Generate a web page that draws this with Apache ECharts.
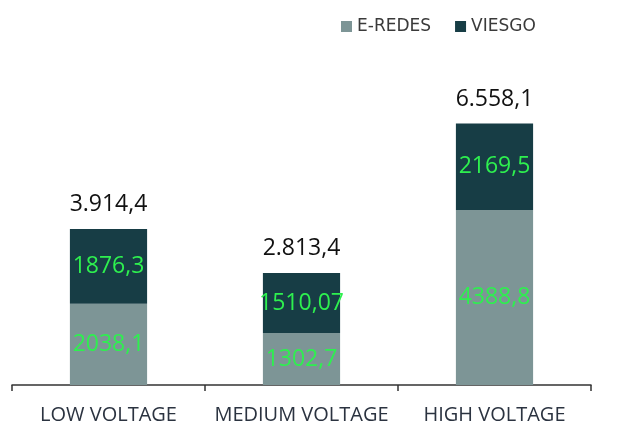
<!DOCTYPE html>
<html><head><meta charset="utf-8">
<script src="https://cdn.jsdelivr.net/npm/echarts@6/dist/echarts.min.js"></script>
<style>html,body{margin:0;padding:0;background:#fff}#c{width:625px;height:425px}</style>
</head><body><div id="c"></div>
<script>
const categories = ['LOW VOLTAGE', 'MEDIUM VOLTAGE', 'HIGH VOLTAGE'];
const eredes = [2038.1, 1302.7, 4388.8];
const viesgo = [1876.3, 1510.07, 2169.5];
const eredesLabels = ['2038,1', '1302,7', '4388,8'];
const viesgoLabels = ['1876,3', '1510,07', '2169,5'];
const totalLabels = ['3.914,4', '2.813,4', '6.558,1'];

const font = 'Open Sans, Noto Sans, sans-serif';
const chart = echarts.init(document.getElementById('c'));
chart.setOption({
  animation: false,
  legend: {
    data: ['E-REDES', 'VIESGO'],
    left: 336, top: 13,
    itemWidth: 11, itemHeight: 11, itemGap: 24, itemTextGap: 7,
    icon: 'rect',
    textStyle: { fontFamily: 'DejaVu Sans, sans-serif', fontSize: 17, color: '#3a3a3a' }
  },
  grid: { left: 12, right: 34, top: 106, bottom: 40 },
  xAxis: {
    type: 'category', data: categories,
    axisLine: { lineStyle: { color: '#333', width: 1.5 } },
    axisTick: { show: true, length: 6, lineStyle: { color: '#333', width: 1.5 } },
    axisLabel: { interval: 0, hideOverlap: false, fontFamily: font, fontSize: 20, color: '#2b3340', margin: 20 }
  },
  yAxis: { type: 'value', min: 0, max: 7000, show: false, splitLine: { show: false } },
  series: [
    {
      name: 'E-REDES', type: 'bar', stack: 'a', barWidth: '40%',
      data: eredes, itemStyle: { color: '#7d9596' },
      label: { show: true, position: 'inside', fontFamily: font, fontSize: 23, color: '#2ef04f',
        formatter: p => eredesLabels[p.dataIndex] }
    },
    {
      name: 'VIESGO', type: 'bar', stack: 'a',
      data: viesgo, itemStyle: { color: '#173d45' },
      label: { show: true, position: 'inside', fontFamily: font, fontSize: 23, color: '#2ef04f',
        formatter: p => viesgoLabels[p.dataIndex] }
    },
    {
      name: 'total', type: 'bar', stack: 'a',
      data: [0, 0, 0], itemStyle: { color: 'transparent' },
      label: { show: true, position: 'top', distance: 13, fontFamily: font, fontSize: 23, color: '#111',
        formatter: p => totalLabels[p.dataIndex] }
    }
  ]
});
</script></body></html>
